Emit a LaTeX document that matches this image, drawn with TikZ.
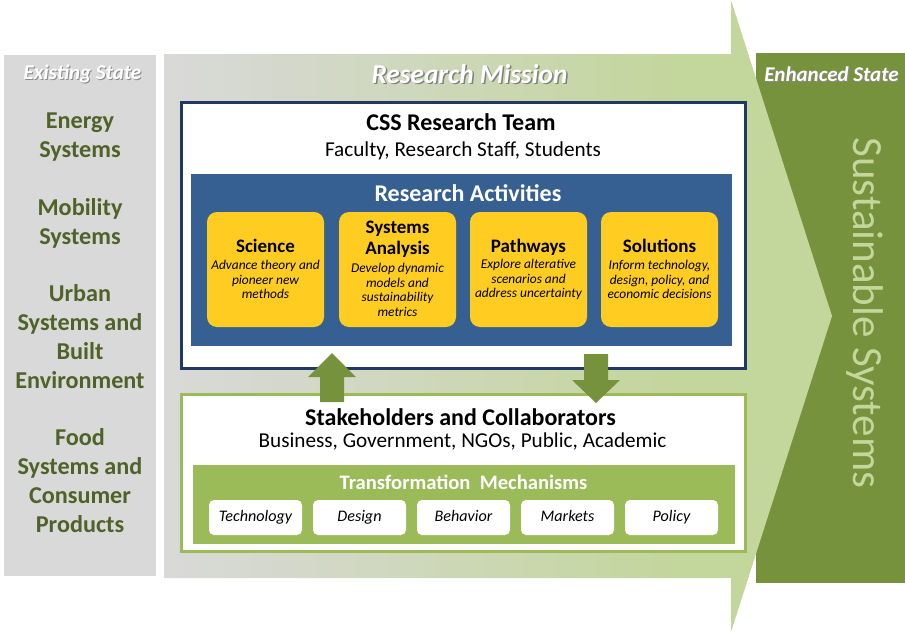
\documentclass[tikz,border=0pt]{standalone}
\usepackage{fontspec}
\setmainfont{Carlito}
\definecolor{greyback}{HTML}{D9D9D9}
\definecolor{lightgreen}{HTML}{C3D69B}
\definecolor{midgreen}{HTML}{9BBB59}
\definecolor{darkgreen}{HTML}{76923C}
\definecolor{olivetext}{HTML}{4F6228}
\definecolor{navyline}{HTML}{1F3864}
\definecolor{steelblue}{HTML}{376092}
\definecolor{amber}{HTML}{FFCD21}
\pgfdeclarehorizontalshading{missionfade}{100bp}{color(0bp)=(greyback); color(25bp)=(greyback); color(64bp)=(lightgreen); color(100bp)=(lightgreen)}

\begin{document}
\begin{tikzpicture}[x=1pt,y=1pt,
	statetext/.style={font=\fontsize{21}{23}\selectfont\bfseries\itshape,inner sep=0pt},
	missiontext/.style={font=\fontsize{27.3}{30}\selectfont\bfseries\itshape,inner sep=0pt},
	sidetext/.style={text=olivetext,font=\fontsize{24.2}{29}\selectfont\bfseries,align=center,inner sep=0pt},
	headtext/.style={font=\fontsize{24}{26}\selectfont\bfseries,inner sep=0pt},
	subtext/.style={font=\fontsize{21.2}{24}\selectfont,inner sep=0pt},
	cardbox/.style={fill=amber,rounded corners=10pt,minimum width=117pt,minimum height=115pt,inner sep=0pt},
	cardtitle/.style={font=\fontsize{19}{21}\selectfont\bfseries,align=center,inner sep=0pt},
	carddesc/.style={font=\fontsize{13.4}{14.5}\selectfont\itshape,align=center,inner sep=0pt},
	leverbox/.style={fill=white,rounded corners=5pt,minimum width=93pt,minimum height=35pt,inner sep=0pt,text height=11pt,text depth=4pt,font=\fontsize{16.1}{18}\selectfont\itshape}]

\useasboundingbox (0,0) rectangle (905,-632);

% green panel sits under the big arrow
\fill[darkgreen] (756,-53) rectangle (905,-583);

% big arrow
\shade[shading=missionfade] (164,-54)--(731,-54)--(731,0)--(832,-316)--(731,-632)--(731,-578)--(164,-578)--cycle;

% existing state
\fill[greyback] (4,-55) rectangle (156,-576);
\node[statetext,text=black!45] (existshadow) at (83.5,-75) {Existing State};
\node[statetext,text=white] (exist) at (82.5,-74) {Existing State};

\node[sidetext] (energy) at (80,-137) {Energy\\Systems};
\node[sidetext] (mobility) at (80,-223.5) {Mobility\\Systems};
\node[sidetext] (urban) at (80,-337) {Urban\\Systems and\\Built\\Environment};
\node[sidetext] (food) at (80,-481) {Food\\Systems and\\Consumer\\Products};

% titles over the arrow
\node[missiontext,text=black!50] (missionshadow) at (471,-75) {Research Mission};
\node[missiontext,text=white] (mission) at (469.5,-74) {Research Mission};
\node[statetext,text=black!45] (enhancedshadow) at (832.5,-75.5) {Enhanced State};
\node[statetext,text=white] (enhanced) at (831.5,-74.5) {Enhanced State};
\node[text=lightgreen,rotate=-90,font=\fontsize{43}{46}\selectfont,inner sep=0pt] (sustain) at (864.5,-313) {Sustainable Systems};

% research team
\draw[navyline,line width=3pt,fill=white] (181.5,-102.5) rectangle (745.5,-368.5);
\node[headtext] (team) at (461,-122) {CSS Research Team};
\node[subtext] (people) at (463,-150.5) {Faculty, Research Staff, Students};

\fill[steelblue] (191,-174) rectangle (732,-346);
\node[text=white,font=\fontsize{24}{26}\selectfont\bfseries,inner sep=0pt] (activities) at (468,-193) {Research Activities};

\foreach \name/\x in {science/265.5,systems/397.5,pathways/528.5,solutions/659.5}{
	\node[cardbox] (\name) at (\x,-269.5) {};
}
\node[cardtitle] (sciencehead) at (265.5,-246) {Science};
\node[carddesc] (sciencetext) at (265.5,-279.5) {Advance theory and\\pioneer new\\methods};
\node[cardtitle] (systemshead) at (397.5,-239.5) {Systems\\Analysis};
\node[carddesc] (systemstext) at (397.5,-290) {Develop dynamic\\models and\\sustainability\\metrics};
\node[cardtitle] (pathwayshead) at (528.5,-247.5) {Pathways};
\node[carddesc] (pathwaystext) at (528.5,-279.5) {Explore alterative\\scenarios and\\address uncertainty};
\node[cardtitle] (solutionshead) at (659.5,-246) {Solutions};
\node[carddesc] (solutionstext) at (659.5,-279.5) {Inform technology,\\design, policy, and\\economic decisions};

% stakeholders
\draw[midgreen,line width=3pt,fill=white] (181.5,-394.5) rectangle (745.5,-551.5);
\node[headtext] (stake) at (460.5,-417) {Stakeholders and Collaborators};
\node[font=\fontsize{21.2}{24}\selectfont,inner sep=0pt] (groups) at (462.5,-441) {Business, Government, NGOs, Public, Academic};

\fill[midgreen] (193,-465) rectangle (735,-544);
\node[text=white,font=\fontsize{20.6}{23}\selectfont\bfseries,inner sep=0pt] (mechanisms) at (463.5,-482) {Transformation~~Mechanisms};

\foreach \name/\x/\word in {tech/255.5/Technology,design/359.5/Design,behavior/463.5/Behavior,markets/567.5/Markets,policy/671.5/Policy}{
	\node[leverbox] (\name) at (\x,-517.5) {\word};
}

% exchange arrows
\fill[darkgreen] (332,-353)--(356,-377)--(344,-377)--(344,-402)--(320,-402)--(320,-377)--(308,-377)--cycle;
\fill[darkgreen] (584,-354)--(608,-354)--(608,-380)--(620,-380)--(596,-403)--(572,-380)--(584,-380)--cycle;

\end{tikzpicture}
\end{document}
